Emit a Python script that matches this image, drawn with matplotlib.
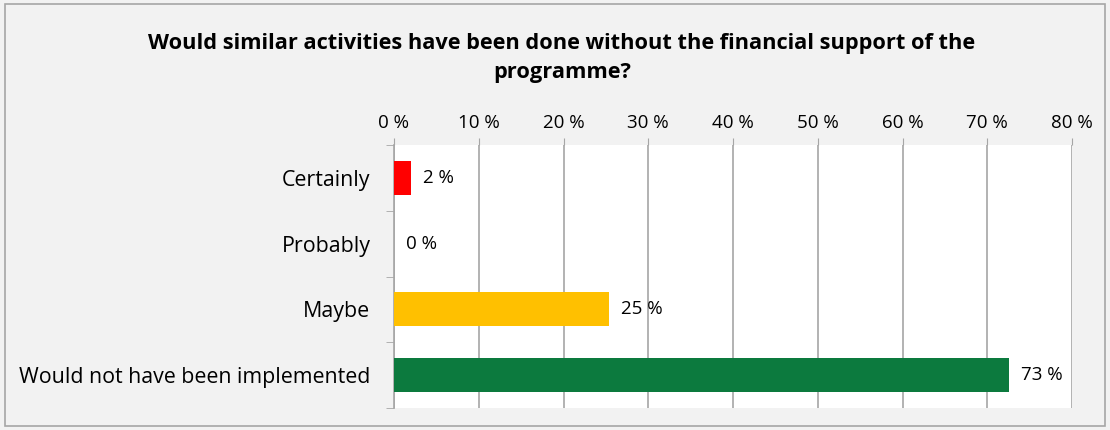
import matplotlib.pyplot as plt
from matplotlib.patches import Rectangle
from matplotlib.ticker import FixedLocator

plt.rcParams['font.family'] = ['Open Sans', 'DejaVu Sans']

categories = ['Certainly', 'Probably', 'Maybe', 'Would not have been implemented']
values = [2.0, 0.0, 25.4, 72.6]
labels = ['2 %', '0 %', '25 %', '73 %']
colors = ['#FF0000', '#FFFFFF', '#FFC000', '#0C7A3E']
xticks = [0, 10, 20, 30, 40, 50, 60, 70, 80]

fig = plt.figure(figsize=(11.1, 4.3), dpi=100)
fig.patch.set_facecolor('#F2F2F2')
fig.patches.append(Rectangle((5 / 1110, 4 / 430), 1100 / 1110, 422 / 430,
                             transform=fig.transFigure, fill=False,
                             edgecolor='#A6A6A6', lw=1.2))

ax = fig.add_axes([394 / 1110, 1 - 408 / 430, 678 / 1110, 263 / 430])
ax.set_facecolor('white')

ypos = range(len(categories))
ax.barh(ypos, values, height=0.52, color=colors, zorder=3)
for y, v, lab in zip(ypos, values, labels):
    ax.text(v + 1.4, y, lab, va='center', ha='left', fontsize=13.5, zorder=4)

ax.set_xlim(0, 80)
ax.set_ylim(len(categories) - 0.5, -0.5)
ax.set_xticks(xticks)
ax.set_xticklabels(['%d %%' % t for t in xticks], fontsize=13.5)
ax.xaxis.tick_top()
ax.tick_params(axis='x', which='major', length=5, color='#A6A6A6', pad=4)
ax.grid(axis='x', color='#A6A6A6', lw=1.2, zorder=1)

ax.set_yticks(list(ypos))
ax.set_yticklabels(categories, fontsize=15.4)
ax.yaxis.set_minor_locator(FixedLocator([i - 0.5 for i in range(len(categories) + 1)]))
ax.tick_params(axis='y', which='major', length=0, pad=17)
ax.tick_params(axis='y', which='minor', length=6, color='#A6A6A6')

for side in ['top', 'right', 'bottom']:
    ax.spines[side].set_visible(False)
ax.spines['left'].set_color('#A6A6A6')
ax.spines['left'].set_linewidth(1.2)

fig.text(562 / 1110, 1 - 58 / 430,
         'Would similar activities have been done without the financial support of the\nprogramme?',
         ha='center', va='center', fontsize=15.7, fontweight='bold', linespacing=1.45)

fig.savefig('out.png', dpi=100, facecolor=fig.get_facecolor())
